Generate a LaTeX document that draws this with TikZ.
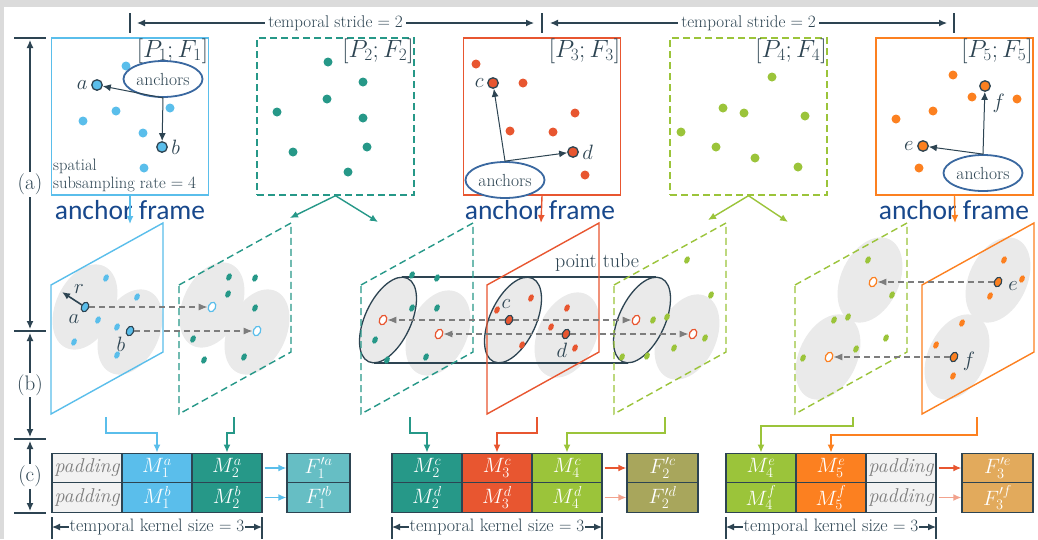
\documentclass[tikz,border=0pt]{standalone}
\usepackage{fontspec}
\newfontfamily\carlito{Carlito}
\usetikzlibrary{arrows.meta,shapes.geometric}

\definecolor{cblue}{RGB}{90,190,235}
\definecolor{cteal}{RGB}{38,152,136}
\definecolor{cred}{RGB}{232,86,48}
\definecolor{cgreen}{RGB}{155,196,58}
\definecolor{corange}{RGB}{252,128,32}
\definecolor{cslate}{RGB}{45,68,82}
\definecolor{cnavy}{RGB}{24,72,140}
\definecolor{cring}{RGB}{58,104,160}
\definecolor{gshade}{RGB}{234,234,234}
\definecolor{cgrey}{RGB}{125,125,125}
\definecolor{cpad}{RGB}{242,242,242}
\definecolor{fone}{RGB}{102,190,196}
\definecolor{ftwo}{RGB}{168,166,92}
\definecolor{fthree}{RGB}{226,170,92}

\begin{document}
\begin{tikzpicture}[x=1pt, y=-1pt, >={Latex[length=8pt,width=7pt]},
  dimline/.style={draw=cslate, line width=1.2pt},
  lab/.style={text=cslate, font=\fontsize{17}{20}\selectfont},
  pframe/.style={minimum width=157pt, minimum height=157pt, line width=1.4pt},
  dsh/.style={dash pattern=on 7pt off 4pt},
  anc/.style={circle, draw=cslate, line width=1.3pt, inner sep=0pt, minimum size=10.5pt},
  ring/.style={ellipse, draw=cring, fill=white, line width=1.8pt, inner sep=0pt, minimum width=79pt, minimum height=36pt, text=cslate, font=\fontsize{17.5}{19}\selectfont},
  ptlab/.style={text=cslate, font=\fontsize{21}{23}\selectfont},
  pan/.style={ellipse, draw=cslate, line width=1.1pt, inner sep=0pt, minimum width=7pt, minimum height=10pt, rotate=-25},
  hol/.style={ellipse, fill=white, line width=1.2pt, inner sep=0pt, minimum width=7pt, minimum height=10pt, rotate=-25},
  gdash/.style={draw=cgrey, line width=1.3pt, dash pattern=on 6pt off 4pt, -{Latex[length=9pt,width=7pt]}},
  conn/.style={line width=1.4pt, ->},
  blk/.style={draw=cslate, line width=1.4pt, minimum width=70pt, minimum height=29.5pt, inner sep=0pt, text=white, font=\fontsize{22}{24}\selectfont},
  pad/.style={blk, fill=cpad, text=cgrey, font=\fontsize{20}{22}\selectfont\itshape},
  afr/.style={text=cnavy, font=\carlito\fontsize{27.5}{30}\selectfont}
]
\fill[black!14] (0,0) rectangle (1038,539);
\fill[white] (4,7) rectangle (1038,539);
\useasboundingbox (0,0) rectangle (1038,539);

% dimension lines
\foreach \x in {130,542,954} \draw[dimline] (\x,13) -- (\x,33);
\draw[dimline, <->] (137,23) -- (534,23) node[midway, fill=white, lab, inner sep=3pt] (st1) {temporal stride $=2$};
\draw[dimline, <->] (550,23) -- (947,23) node[midway, fill=white, lab, inner sep=3pt] (st2) {temporal stride $=2$};
\foreach \y in {38,331,439,513} \draw[dimline] (14,\y) -- (46,\y);
\draw[dimline, <->] (30,40) -- (30,329) node[midway, fill=white, ptlab, inner sep=2pt] (sa) {(a)};
\draw[dimline, <->] (30,333) -- (30,437) node[midway, fill=white, ptlab, inner sep=2pt] (sb) {(b)};
\draw[dimline, <->] (30,441) -- (30,511) node[midway, fill=white, ptlab, inner sep=2pt] (sc) {(c)};

% frames
\node[pframe, draw=cblue] (f1) at (130,116.5) {};
\node[pframe, draw=cteal, dsh] (f2) at (335.5,116.5) {};
\node[pframe, draw=cred] (f3) at (542,116.5) {};
\node[pframe, draw=cgreen, dsh] (f4) at (748.5,116.5) {};
\node[pframe, draw=corange] (f5) at (954.5,116.5) {};

\foreach \p in {(126,66),(116,111),(83,121),(170,108),(143,133),(144,168)} \fill[cblue] \p circle (4.5pt);
\foreach \p in {(328,62),(363,82),(327,99),(277,112),(363,118),(293,152),(367,147),(348,172)} \fill[cteal] \p circle (4.5pt);
\foreach \p in {(476,64),(523,83),(575,113),(510,131),(553,132),(585,175)} \fill[cred] \p circle (4.5pt);
\foreach \p in {(772,77),(723,108),(744,113),(805,116),(681,132),(716,147),(755,158),(798,167)} \fill[cgreen] \p circle (4.5pt);
\foreach \p in {(953,75),(972,97),(1017,99),(933,111),(896,119),(919,168)} \fill[corange] \p circle (4.5pt);

\foreach \i in {1,...,5}
  \node[anchor=north east, text=cslate, font=\fontsize{24}{26}\selectfont, inner sep=1pt] (pf\i) at (f\i.north east) {$[P_\i; F_\i]$};

\node[ring] (r1) at (163,79) {anchors};
\node[anc, fill=cblue, label={[ptlab]left:$a$}] (aa) at (97,85) {};
\node[anc, fill=cblue, label={[ptlab]right:$b$}] (ab) at (162,147) {};
\draw[cslate, line width=1pt, ->] (r1.south) -- (aa);
\draw[cslate, line width=1pt, ->] (r1.south) -- (ab);

\node[ring] (r3) at (505,180) {anchors};
\node[anc, fill=cred, label={[ptlab]left:$c$}] (ac) at (493,83) {};
\node[anc, fill=cred, label={[ptlab]right:$d$}] (ad) at (573,152) {};
\draw[cslate, line width=1pt, ->] (r3.north) -- (ac);
\draw[cslate, line width=1pt, ->] (r3.north) -- (ad);

\node[ring] (r5) at (983,173) {anchors};
\node[anc, fill=corange, label={[ptlab]left:$e$}] (ae) at (923,146) {};
\node[anc, fill=corange, label={[ptlab]below right:$f$}] (af) at (985,86) {};
\draw[cslate, line width=1pt, ->] (r5.north) -- (af);
\draw[cslate, line width=1pt, ->] (r5.north) -- (ae);

\node[anchor=south west, align=left, text=cslate, font=\fontsize{16.5}{18}\selectfont, inner sep=1pt] (ssr) at (52,193) {spatial\\subsampling rate $=4$};

% anchor frames
\node[afr] (af1) at (130,210) {anchor frame};
\node[afr] (af3) at (540,210) {anchor frame};
\node[afr] (af5) at (954,210) {anchor frame};
\coordinate (t1) at (130,224);
\coordinate (t3) at (541,223);
\coordinate (t5) at (955,223);
\coordinate (t2l) at (290,218);
\coordinate (t2r) at (378,222);
\coordinate (t4l) at (708,220);
\coordinate (t4r) at (788,222);
\draw[conn, cblue] (f1.south) -- (t1);
\draw[conn, cred] (f3.south) -- (t3);
\draw[conn, corange] (f5.south) -- (t5);
\draw[conn, cteal] (f2.south) -- (t2l);
\draw[conn, cteal] (f2.south) -- (t2r);
\draw[conn, cgreen] (f4.south) -- (t4l);
\draw[conn, cgreen] (f4.south) -- (t4r);

% neighbourhoods and tube
\foreach \p in {(85,307),(130,332),(212,305),(257,332),(438,333),(567,335),(687,337),(870,280),(828,357),(998,280),(957,357)}
  \fill[gshade] \p circle [x radius=29pt, y radius=45pt, rotate=-25];
\foreach \p in {(388,320),(513,320),(642,320)}
  \filldraw[fill=gshade, draw=cslate, line width=1.3pt] \p circle [x radius=23pt, y radius=46pt, rotate=-25];
\draw[cslate, line width=1.3pt] (402,277) -- (656,277) (374,363) -- (628,363);
\node[lab, font=\fontsize{20}{22}\selectfont] (ptube) at (597,263) {point tube};

% planes
\foreach \L/\c/\s in {51/cblue/solid, 179/cteal/dsh, 361/cteal/dsh, 487/cred/solid, 614/cgreen/dsh, 795/cgreen/dsh, 922/corange/solid}
  \draw[\c, \s, line width=1.4pt] (\L,285) -- ++(112,-62) -- ++(0,129) -- ++(-112,62) -- cycle;

\foreach \p in {(106,278),(137,297),(98,320),(117,327),(74,342),(117,355)}
  \fill[cblue] \p circle [x radius=2.6pt, y radius=3.9pt, rotate=-25];
\foreach \p in {(229,277),(255,278),(228,294),(255,308),(193,339),(204,360),(244,357),(412,275),(437,278),(412,308),(437,308),(375,340),(387,360),(426,357)}
  \fill[cteal] \p circle [x radius=2.6pt, y radius=3.9pt, rotate=-25];
\foreach \p in {(497,310),(531,298),(551,327),(567,308),(522,345),(575,348)}
  \fill[cred] \p circle [x radius=2.6pt, y radius=3.9pt, rotate=-25];
\foreach \p in {(687,260),(653,320),(667,317),(674,348),(647,356),(622,357),(711,295),(705,338),(868,260),(892,295),(834,320),(848,317),(886,338),(856,349),(803,358)}
  \fill[cgreen] \p circle [x radius=2.6pt, y radius=3.9pt, rotate=-25];
\foreach \p in {(1004,260),(1022,279),(990,296),(962,323),(936,345),(953,376)}
  \fill[corange] \p circle [x radius=2.6pt, y radius=3.9pt, rotate=-25];

\node[pan, fill=cblue] (pa) at (85,307) {};
\node[pan, fill=cblue] (pb) at (130,331) {};
\node[hol, draw=cblue] (ha) at (212,307) {};
\node[hol, draw=cblue] (hb) at (257,331) {};
\draw[gdash] (pa) -- (ha);
\draw[gdash] (pb) -- (hb);
\coordinate (rt) at (62,292);
\draw[cslate, line width=1.6pt, ->] (pa) -- (rt);
\node[ptlab] (lr) at (79,289) {$r$};
\node[ptlab] (la) at (74,319) {$a$};
\node[ptlab] (lb) at (121,344) {$b$};

\node[pan, fill=cred] (pc) at (509,320) {};
\node[pan, fill=cred] (pd) at (566,334) {};
\node[hol, draw=cred] (hc1) at (383,320) {};
\node[hol, draw=cred] (hd1) at (439,334) {};
\node[hol, draw=cred] (hc2) at (636,320) {};
\node[hol, draw=cred] (hd2) at (693,334) {};
\draw[gdash] (pc) -- (hc1);
\draw[gdash] (pc) -- (hc2);
\draw[gdash] (pd) -- (hd1);
\draw[gdash] (pd) -- (hd2);
\node[ptlab] (lc) at (506,304) {$c$};
\node[ptlab] (ld) at (562,350) {$d$};

\node[pan, fill=corange] (pe) at (998,282) {};
\node[pan, fill=corange] (pf) at (954,357) {};
\node[hol, draw=corange] (he) at (873,282) {};
\node[hol, draw=corange] (hf) at (829,357) {};
\draw[gdash] (pe) -- (he);
\draw[gdash] (pf) -- (hf);
\node[ptlab] (le) at (1013,286) {$e$};
\node[ptlab] (lf) at (969,361) {$f$};

% feature blocks
\node[pad] (p1a) at (87,468) {padding};
\node[blk, fill=cblue] (m1a) at (157,468) {$M^a_1$};
\node[blk, fill=cteal] (m2a) at (227,468) {$M^a_2$};
\node[pad] (p1b) at (87,497.5) {padding};
\node[blk, fill=cblue] (m1b) at (157,497.5) {$M^b_1$};
\node[blk, fill=cteal] (m2b) at (227,497.5) {$M^b_2$};
\node[blk, fill=fone, minimum width=63pt] (fa) at (318.5,468) {$F'^a_1$};
\node[blk, fill=fone, minimum width=63pt] (fb) at (318.5,497.5) {$F'^b_1$};

\node[blk, fill=cteal] (m2c) at (427,468) {$M^c_2$};
\node[blk, fill=cred] (m3c) at (497,468) {$M^c_3$};
\node[blk, fill=cgreen] (m4c) at (567,468) {$M^c_4$};
\node[blk, fill=cteal] (m2d) at (427,497.5) {$M^d_2$};
\node[blk, fill=cred] (m3d) at (497,497.5) {$M^d_3$};
\node[blk, fill=cgreen] (m4d) at (567,497.5) {$M^d_4$};
\node[blk, fill=ftwo, minimum width=71pt] (fc) at (662.5,468) {$F'^c_2$};
\node[blk, fill=ftwo, minimum width=71pt] (fd) at (662.5,497.5) {$F'^d_2$};

\node[blk, fill=cgreen] (m4e) at (761,468) {$M^e_4$};
\node[blk, fill=corange] (m5e) at (831,468) {$M^e_5$};
\node[pad] (p3e) at (901,468) {padding};
\node[blk, fill=cgreen] (m4f) at (761,497.5) {$M^f_4$};
\node[blk, fill=corange] (m5f) at (831,497.5) {$M^f_5$};
\node[pad] (p3f) at (901,497.5) {padding};
\node[blk, fill=fthree, minimum width=71pt] (fe) at (997.5,468) {$F'^e_3$};
\node[blk, fill=fthree, minimum width=71pt] (ff) at (997.5,497.5) {$F'^f_3$};

\draw[conn, cblue, shorten <=2pt] (m2a.east) -- (fa.west);
\draw[conn, cblue, shorten <=2pt] (m2b.east) -- (fb.west);
\draw[conn, cred, shorten <=2pt] (m4c.east) -- (fc.west);
\draw[conn, cred!55, shorten <=2pt] (m4d.east) -- (fd.west);
\draw[conn, cred, shorten <=2pt] (p3e.east) -- (fe.west);
\draw[conn, cred!55, shorten <=2pt] (p3f.east) -- (ff.west);

% plane to block connectors
\coordinate (q1) at (106,417);
\coordinate (q2) at (234,417);
\coordinate (q3) at (410,417);
\coordinate (q4) at (537,417);
\coordinate (q5) at (665,417);
\coordinate (q6) at (853,417);
\coordinate (q7) at (977,417);
\draw[conn, cblue] (q1) -- ++(0,16) -| (m1a.north);
\draw[conn, cteal] (q2) -- ++(0,16) -| (m2a.north);
\draw[conn, cteal] (q3) -- ++(0,16) -| (m2c.north);
\draw[conn, cred] (q4) -- ++(0,16) -| (m3c.north);
\draw[conn, cgreen] (q5) -- ++(0,16) -| (m4c.north);
\draw[conn, cgreen] (q6) -- ++(0,9) -| (m4e.north);
\draw[conn, corange] (q7) -- ++(0,18) -| (m5e.north);

% kernel size
\foreach \a/\b in {52/262, 392/602, 726/936} {
  \draw[dimline] (\a,517) -- (\a,539) (\b,517) -- (\b,539);
  \draw[dimline, <->] (\a,527) -- (\b,527) node[midway, fill=white, lab, font=\fontsize{18}{20}\selectfont, inner sep=1pt] {temporal kernel size $=3$};
}
\end{tikzpicture}
\end{document}
